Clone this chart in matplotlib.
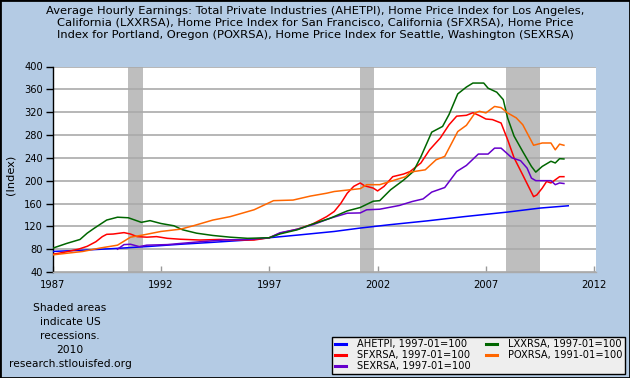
import matplotlib
matplotlib.use("Agg")
import matplotlib.pyplot as plt
from matplotlib.lines import Line2D

# ---------------- data (decimal years, index values) ----------------
ahetpi_x = [1987.0, 1988.3, 1989.8, 1991.35, 1992.9, 1994.4, 1996.0, 1997.0, 1998.4, 2000.0,
            2001.2, 2002.6, 2004.3, 2006.0, 2008.0, 2009.5, 2010.8]
ahetpi_y = [76, 78, 81, 84.5, 88.6, 92, 96, 100, 105, 111,
            117, 123, 129.6, 137, 145, 152, 156]

lxxrsa_x = [1987.0, 1987.65, 1988.27, 1988.6, 1988.9, 1989.5, 1990.0, 1990.5, 1991.1, 1991.5,
            1992.0, 1992.6, 1993.0, 1993.65, 1994.4, 1995.2, 1996.0, 1997.0, 1997.5, 1998.3,
            1999.0, 1999.8, 2000.6, 2001.2, 2001.8, 2002.1, 2002.6, 2003.2, 2003.65, 2004.0,
            2004.5, 2005.0, 2005.3, 2005.7, 2006.1, 2006.4, 2006.9, 2007.1, 2007.5, 2007.8,
            2008.0, 2008.3, 2008.7, 2009.1, 2009.3, 2009.6, 2010.0, 2010.2, 2010.4, 2010.6]
lxxrsa_y = [81.6, 90, 97, 108, 116, 131, 136, 135, 127, 130,
            125, 121, 114, 108, 104, 101, 99, 100, 106.7, 114,
            124, 134, 147, 153, 164, 165, 184, 201, 216, 242,
            285, 295, 316, 352, 364, 371, 371, 362, 355, 342,
            310, 278, 251, 225, 215, 225, 234, 231, 238.5, 238]

sfxrsa_x = [1987.0, 1987.6, 1988.2, 1988.6, 1989.0, 1989.3, 1989.5, 1989.8, 1990.3, 1990.6,
            1990.9, 1991.35, 1991.8, 1992.3, 1992.9, 1993.8, 1994.7, 1995.35, 1996.3, 1997.0,
            1997.5, 1998.3, 1999.0, 1999.65, 2000.0, 2000.3, 2000.6, 2000.9, 2001.2, 2001.4,
            2001.8, 2002.0, 2002.3, 2002.7, 2003.2, 2003.5, 2004.0, 2004.4, 2004.9, 2005.3,
            2005.65, 2006.1, 2006.4, 2006.7, 2007.0, 2007.3, 2007.7, 2008.0, 2008.3, 2008.7,
            2009.2, 2009.35, 2009.6, 2009.8, 2010.0, 2010.4, 2010.6]
sfxrsa_y = [71, 75, 80, 85, 93, 102, 106, 106.5, 109, 106.5,
            102, 101, 102, 99, 97.4, 96, 97, 96, 96, 100,
            108, 115, 124, 137, 146, 160, 178, 190, 196, 191,
            187, 182, 190, 207, 211.6, 216, 231, 254, 275, 298,
            313, 314.5, 319, 314, 308, 307, 301, 272, 240, 210,
            172, 175, 187, 198.6, 196, 207, 207]

poxrsa_x = [1987.0, 1988.4, 1989.2, 1990.0, 1990.6, 1991.2, 1992.0, 1992.9, 1993.5, 1994.4,
            1995.2, 1996.3, 1997.2, 1998.1, 1998.9, 1999.65, 2000.0, 2001.2, 2001.5, 2002.1,
            2002.7, 2003.3, 2003.5, 2004.2, 2004.7, 2005.1, 2005.7, 2006.1, 2006.5, 2006.7,
            2007.0, 2007.4, 2007.7, 2008.0, 2008.4, 2008.7, 2009.2, 2009.6, 2010.0, 2010.2,
            2010.4, 2010.6]
poxrsa_y = [70, 76, 82, 87, 101, 105, 111, 115, 121, 131,
            137, 149, 165, 166, 173, 178, 181, 186, 193, 193,
            200, 207, 215, 219, 236.6, 242.5, 286, 297, 318.7, 321.5,
            318.7, 330, 328, 318.7, 310, 298, 262, 266, 266, 254,
            264, 262]

sexrsa_x = [1990.0, 1990.3, 1990.6, 1991.0, 1991.35, 1992.3, 1992.9, 1993.8, 1994.9, 1996.0,
            1997.0, 1997.5, 1998.3, 1999.0, 1999.8, 2000.6, 2001.2, 2001.5, 2002.1, 2003.0,
            2003.6, 2004.1, 2004.5, 2005.1, 2005.65, 2006.1, 2006.65, 2007.1, 2007.4, 2007.7,
            2008.2, 2008.6, 2008.9, 2009.1, 2009.3, 2010.0, 2010.2, 2010.4, 2010.6]
sexrsa_y = [80, 88, 88.6, 84.5, 87, 88, 90, 93, 96, 97,
            100, 108.7, 115, 122.6, 134, 143, 143.5, 149, 150, 156.5,
            163.5, 168, 180, 188, 216, 226.7, 246.6, 246.6, 257, 257,
            240, 235, 222, 204.5, 200, 200, 193, 196, 195]

recession_starts = [1990.5, 2001.17, 2007.92]
recession_ends = [1991.17, 2001.83, 2009.5]

x_ticks = [1987, 1992, 1997, 2002, 2007, 2012]
y_ticks = [40, 80, 120, 160, 200, 240, 280, 320, 360, 400]

series_labels = ["AHETPI, 1997-01=100", "SFXRSA, 1997-01=100", "SEXRSA, 1997-01=100",
                 "LXXRSA, 1997-01=100", "POXRSA, 1991-01=100"]

title_text = ("Average Hourly Earnings: Total Private Industries (AHETPI), Home Price Index for Los Angeles,\n"
              "California (LXXRSA), Home Price Index for San Francisco, California (SFXRSA), Home Price\n"
              "Index for Portland, Oregon (POXRSA), Home Price Index for Seattle, Washington (SEXRSA)")

# ---------------- styling ----------------
BG = "#b4cbe4"
plt.rcParams["font.family"] = ["DejaVu Sans"]

W, H = 630, 378
fig = plt.figure(figsize=(W / 100, H / 100), dpi=100, facecolor=BG)

left, right, top, bottom = 52.5, 596, 66.5, 272
ax = fig.add_axes([left / W, 1 - bottom / H, (right - left) / W, (bottom - top) / H])
ax.set_facecolor("white")

for s, e in zip(recession_starts, recession_ends):
    ax.axvspan(s, e, color="#bebebe", lw=0, zorder=1)

for yv in y_ticks:
    ax.axhline(yv, color="#aaaaaa", lw=1.2, zorder=2)

ax.plot(ahetpi_x, ahetpi_y, color="#0000ff", lw=1.1, zorder=4)
ax.plot(sfxrsa_x, sfxrsa_y, color="#ff0000", lw=1.1, zorder=4)
ax.plot(sexrsa_x, sexrsa_y, color="#6600cc", lw=1.1, zorder=4)
ax.plot(lxxrsa_x, lxxrsa_y, color="#006600", lw=1.1, zorder=4)
ax.plot(poxrsa_x, poxrsa_y, color="#ff6600", lw=1.1, zorder=4)

ax.set_xlim(1987, 2012.08)
ax.set_ylim(40, 400)
ax.set_yticks(y_ticks)
ax.set_xticks(x_ticks)
ax.tick_params(axis="y", direction="out", length=5, width=1, labelsize=7.1, pad=2, colors="black")
ax.tick_params(axis="x", direction="in", length=4, width=1, labelsize=7.2, pad=6,
               color="#999999", labelcolor="black")
for sp in ["top", "right"]:
    ax.spines[sp].set_visible(False)
ax.spines["left"].set_color("black")
ax.spines["left"].set_linewidth(1)
ax.spines["bottom"].set_color("#aaaaaa")
ax.spines["bottom"].set_linewidth(1)

ax.set_ylabel("(Index)", fontsize=8.2)
ax.yaxis.set_label_coords((15.5 - left) / (right - left), (bottom - 175) / (bottom - top))

fig.text(0.5, 1 - 6 / H, title_text, ha="center", va="top", fontsize=8.25,
         linespacing=1.22, color="black")

fig.text(70 / W, 1 - 303 / H,
         "Shaded areas\nindicate US\nrecessions.\n2010\nresearch.stlouisfed.org",
         ha="center", va="top", fontsize=7.7, linespacing=1.5, color="black")

handles = [Line2D([], [], color=c, lw=2.2) for c in
           ["#0000ff", "#ff0000", "#6600cc", "#006600", "#ff6600"]]
leg = fig.legend(handles, series_labels, ncol=2, loc="lower right",
                 bbox_to_anchor=(625 / W, 1 - 374 / H), fontsize=7.1,
                 frameon=True, fancybox=False, edgecolor="black", facecolor="#eeeeee",
                 framealpha=1, handlelength=1.1, handletextpad=1.1, columnspacing=1.6,
                 labelspacing=0.1, borderpad=0.28, borderaxespad=0)
leg.get_frame().set_linewidth(1)

# outer border
fig.patches.append(plt.Rectangle((0, 0), 1, 1, transform=fig.transFigure, fill=False,
                                 edgecolor="black", lw=2))

fig.savefig("out.png", dpi=100, facecolor=BG)
